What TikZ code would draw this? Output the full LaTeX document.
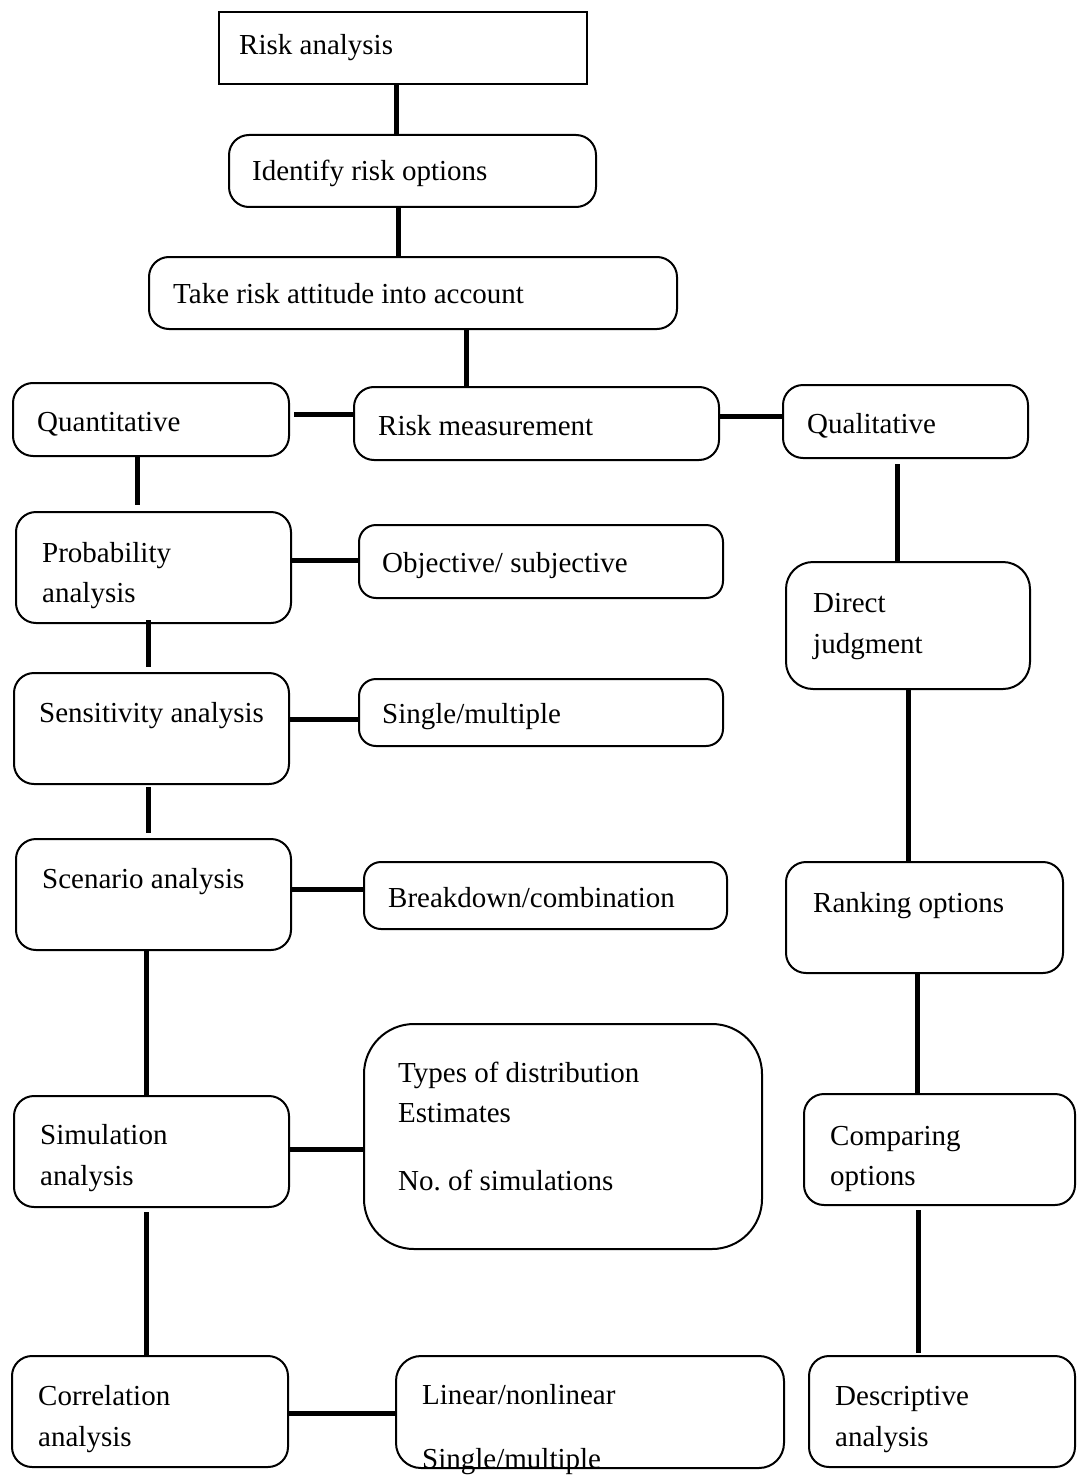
\documentclass[tikz,border=0pt]{standalone}
\usepackage{fontspec}
\setmainfont{Liberation Serif}
\frenchspacing
\begin{document}
\begin{tikzpicture}[x=1pt,y=-1pt,
  box/.style={draw, line width=2pt, rounded corners=20pt, inner sep=0pt,
    anchor=north west},
  sharpbox/.style={draw, line width=2pt, inner sep=0pt, anchor=north west},
  txt/.style={font=\fontsize{29pt}{35pt}\selectfont, inner sep=0pt,
    anchor=base west},
  link/.style={line width=5pt}]
\useasboundingbox (0,0) rectangle (1076,1479);

% boxes
\node[sharpbox, minimum width=368pt, minimum height=72pt] (ra)   at (218,11) {};
\node[box, minimum width=367pt, minimum height=72pt]  (iro)    at (228,134) {};
\node[box, minimum width=528pt, minimum height=72pt]  (take)   at (148,256) {};
\node[box, minimum width=276pt, minimum height=73pt]  (quant)  at (12,382) {};
\node[box, minimum width=365pt, minimum height=73pt]  (rm)     at (353,386) {};
\node[box, minimum width=245pt, minimum height=73pt]  (qual)   at (782,384) {};
\node[box, minimum width=275pt, minimum height=111pt] (prob)   at (15,511) {};
\node[box, rounded corners=17pt, minimum width=364pt, minimum height=73pt] (obj) at (358,524) {};
\node[box, rounded corners=27pt, minimum width=244pt, minimum height=127pt] (direct) at (785,561) {};
\node[box, minimum width=275pt, minimum height=111pt] (sens)   at (13,672) {};
\node[box, rounded corners=17pt, minimum width=364pt, minimum height=67pt] (single) at (358,678) {};
\node[box, minimum width=275pt, minimum height=111pt] (scen)   at (15,838) {};
\node[box, rounded corners=17pt, minimum width=363pt, minimum height=67pt] (brk) at (363,861) {};
\node[box, minimum width=277pt, minimum height=111pt] (rank)   at (785,861) {};
\node[box, rounded corners=50pt, minimum width=398pt, minimum height=225pt] (types) at (363,1023) {};
\node[box, minimum width=275pt, minimum height=111pt] (sim)    at (13,1095) {};
\node[box, minimum width=271pt, minimum height=111pt] (comp)   at (803,1093) {};
\node[box, minimum width=276pt, minimum height=111pt] (corr)   at (11,1355) {};
\node[box, rounded corners=25pt, minimum width=388pt, minimum height=112pt] (lin) at (395,1355) {};
\node[box, minimum width=266pt, minimum height=111pt] (desc)   at (808,1355) {};

% labels
\node[txt] (tra)    at (239,55)   {Risk analysis};
\node[txt] (tiro)   at (252,181)  {Identify risk options};
\node[txt] (ttake)  at (173,303)  {Take risk attitude into account};
\node[txt] (tquant) at (37,431)   {Quantitative};
\node[txt] (trm)    at (378,435)  {Risk measurement};
\node[txt] (tqual)  at (807,433)  {Qualitative};
\node[txt] (tprob1) at (42,562)   {Probability};
\node[txt] (tprob2) at (42,602)   {analysis};
\node[txt] (tobj)   at (382,572)  {Objective/ subjective};
\node[txt] (tdir1)  at (813,612)  {Direct};
\node[txt] (tdir2)  at (813,653)  {judgment};
\node[txt] (tsens)  at (39,722)   {Sensitivity analysis};
\node[txt] (tsing)  at (382,723)  {Single/multiple};
\node[txt] (tscen)  at (42,888)   {Scenario analysis};
\node[txt] (tbrk)   at (388,907)  {Breakdown/combination};
\node[txt] (trank)  at (813,912)  {Ranking options};
\node[txt] (ttyp1)  at (398,1082) {Types of distribution};
\node[txt] (ttyp2)  at (398,1122) {Estimates};
\node[txt] (ttyp3)  at (398,1190) {No. of simulations};
\node[txt] (tsim1)  at (40,1144)  {Simulation};
\node[txt] (tsim2)  at (40,1185)  {analysis};
\node[txt] (tcomp1) at (830,1145) {Comparing};
\node[txt] (tcomp2) at (830,1185) {options};
\node[txt] (tcorr1) at (38,1405)  {Correlation};
\node[txt] (tcorr2) at (38,1446)  {analysis};
\node[txt] (tlin1)  at (422,1404) {Linear/nonlinear};
\node[txt] (tlin2)  at (422,1468) {Single/multiple};
\node[txt] (tdesc1) at (835,1405) {Descriptive};
\node[txt] (tdesc2) at (835,1446) {analysis};

% main spine
\draw[link] (396,0 |- ra.south) -- (396,0 |- iro.north);
\draw[link] (398,0 |- iro.south) -- (398,0 |- take.north);
\draw[link] (466,0 |- take.south) -- (466,0 |- rm.north);
\draw[link, shorten <=4pt] (quant.east |- 0,414) -- (rm.west |- 0,414);
\draw[link] (rm.east |- 0,416) -- (qual.west |- 0,416);

% quantitative branch
\draw[link, shorten >=6pt] (137,0 |- quant.south) -- (137,0 |- prob.north);
\draw[link] (prob.east |- 0,560) -- (obj.west |- 0,560);
\draw[link, shorten <=-4pt, shorten >=5pt] (148,0 |- prob.south) -- (148,0 |- sens.north);
\draw[link] (sens.east |- 0,719) -- (single.west |- 0,719);
\draw[link, shorten <=2pt, shorten >=5pt] (148,0 |- sens.south) -- (148,0 |- scen.north);
\draw[link] (scen.east |- 0,889) -- (brk.west |- 0,889);
\draw[link] (146,0 |- scen.south) -- (146,0 |- sim.north);
\draw[link] (sim.east |- 0,1149) -- (types.west |- 0,1149);
\draw[link, shorten <=4pt] (146,0 |- sim.south) -- (146,0 |- corr.north);
\draw[link] (corr.east |- 0,1413) -- (lin.west |- 0,1413);

% qualitative branch
\draw[link, shorten <=5pt] (897,0 |- qual.south) -- (897,0 |- direct.north);
\draw[link] (908,0 |- direct.south) -- (908,0 |- rank.north);
\draw[link] (917,0 |- rank.south) -- (917,0 |- comp.north);
\draw[link, shorten <=4pt, shorten >=2pt] (918,0 |- comp.south) -- (918,0 |- desc.north);
\end{tikzpicture}
\end{document}
